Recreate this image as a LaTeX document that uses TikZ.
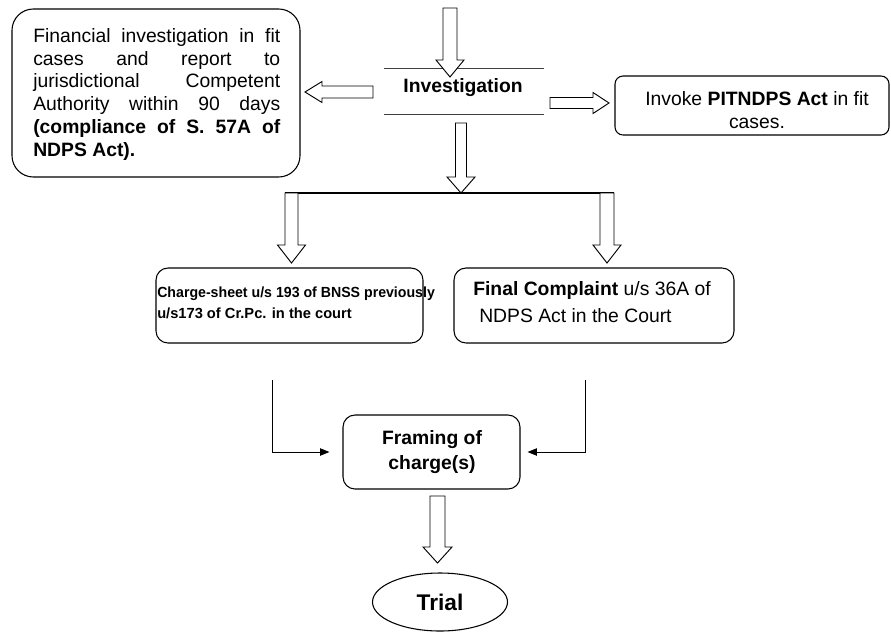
\documentclass[tikz,border=0pt]{standalone}
\usepackage{fontspec}
\setmainfont{Liberation Sans}
\usetikzlibrary{shapes.geometric,arrows.meta}
\newcommand{\BlkDown}[6]{% x, ytop, yhead, ytip, shaft hw, head hw
  \draw[blk] (#1-#5,#2) -- (#1-#5,#3) -- (#1-#6,#3) -- (#1,#4) -- (#1+#6,#3) -- (#1+#5,#3) -- (#1+#5,#2) -- cycle;}
\newcommand{\BlkHor}[6]{% y, xtail, xhead, xtip, shaft hw, head hw
  \draw[blk] (#2,#1-#5) -- (#3,#1-#5) -- (#3,#1-#6) -- (#4,#1) -- (#3,#1+#6) -- (#3,#1+#5) -- (#2,#1+#5) -- cycle;}
\begin{document}
\begin{tikzpicture}[x=0.75pt,y=-0.75pt,
  rbox/.style={draw, line width=0.8pt, rounded corners=#1, inner sep=0pt},
  rbox/.default=9pt,
  blk/.style={draw, line width=0.7pt, fill=white, line join=miter},
  txt/.style={inner sep=0pt, font=\fontsize{14.5}{17}\selectfont},
  btxt/.style={inner sep=0pt, font=\bfseries\fontsize{14.5}{17}\selectfont},
  rule/.style={line width=0.7pt, draw=black!75},
  conn/.style={line width=0.7pt, -{Triangle[length=7pt,width=5.5pt]}}]
\useasboundingbox (0,0) rectangle (891,632);

% boxes
\node[rbox=16pt, minimum width=216pt, minimum height=126pt] (fin) at (156,93) {};
\node[rbox=6pt, minimum width=205.5pt, minimum height=44.25pt] (pit) at (752,105.5) {};
\node[rbox=9pt, minimum width=200.25pt, minimum height=56.25pt] (cs) at (289.5,305.5) {};
\node[rbox=9pt, minimum width=210pt, minimum height=56.25pt] (fc) at (594,305.5) {};
\node[rbox=9pt, minimum width=132.75pt, minimum height=55.5pt] (fr) at (431.5,452) {};
\node[draw, line width=0.8pt, ellipse, minimum width=101.25pt, minimum height=43.5pt, inner sep=0pt] (trial) at (440,602) {};

% texts of the financial box
\node[txt, anchor=base west] (fin1) at (33,42) {\makebox[185.25pt][s]{Financial investigation in fit}};
\node[txt, anchor=base west] (fin2) at (33,65) {\makebox[185.25pt][s]{cases and report to}};
\node[txt, anchor=base west] (fin3) at (33,87.5) {\makebox[185.25pt][s]{jurisdictional Competent}};
\node[txt, anchor=base west] (fin4) at (33,110) {\makebox[185.25pt][s]{Authority within 90 days}};
\node[btxt, anchor=base west] (fin5) at (33,133) {\makebox[185.25pt][s]{(compliance of S. 57A of}};
\node[btxt, anchor=base west] (fin6) at (33,156) {NDPS Act).};

% investigation
\node[btxt, anchor=base] (inv) at (463,92) {Investigation};
\coordinate (invtl) at (384,68);
\coordinate (invtr) at (544,68);
\coordinate (invbl) at (384,114);
\coordinate (invbr) at (544,114);
\draw[rule] (invtl) -- (invtr);
\draw[rule] (invbl) -- (invbr);

% PITNDPS
\node[txt, anchor=base] (pit1) at (757,105) {Invoke \textbf{PITNDPS Act} in fit};
\node[txt, anchor=base] (pit2) at (757,128) {cases.};

% charge-sheet
\node[inner sep=0pt, font=\bfseries\fontsize{11}{14}\selectfont, anchor=base west] (cs1) at (157,297) {\scalebox{0.965}[1]{Charge-sheet u/s 193 of BNSS previously}};
\node[inner sep=0pt, font=\bfseries\fontsize{11}{14}\selectfont, anchor=base west] (cs2) at (157,318) {u/s173 of Cr.Pc. in the court};

% final complaint
\node[txt, anchor=base west] (fc1) at (473,295) {\textbf{Final Complaint} u/s 36A of};
\node[txt, anchor=base west] (fc2) at (479,322) {NDPS Act in the Court};

% framing
\node[btxt, anchor=base] (fr1) at (432,444) {Framing of};
\node[btxt, anchor=base] (fr2) at (432,469) {charge(s)};

% trial
\node[inner sep=0pt, font=\bfseries\fontsize{17}{20}\selectfont, anchor=base] (tr1) at (440,610) {Trial};

% block arrows
\BlkDown{450}{8}{60}{77}{7}{14}
\BlkDown{461}{123}{177}{193}{5.5}{14}
\draw[line width=0.8pt] (285,193) -- (614,193);
\BlkDown{291.5}{193}{245}{263}{6.5}{14}
\BlkDown{607}{193}{245}{263}{7}{14}
\BlkDown{437.5}{496}{547}{563}{7.5}{14.5}
\BlkHor{92}{373}{322}{305}{6}{10.5}
\BlkHor{103}{550}{593}{609}{5.5}{10.5}

% connectors
\coordinate (csb) at (272,380);
\coordinate (fcb) at (585,380);
\draw[conn, shorten >=9.75pt] (csb) |- (fr.west);
\draw[conn, shorten >=5.25pt] (fcb) |- (fr.east);
\end{tikzpicture}
\end{document}
